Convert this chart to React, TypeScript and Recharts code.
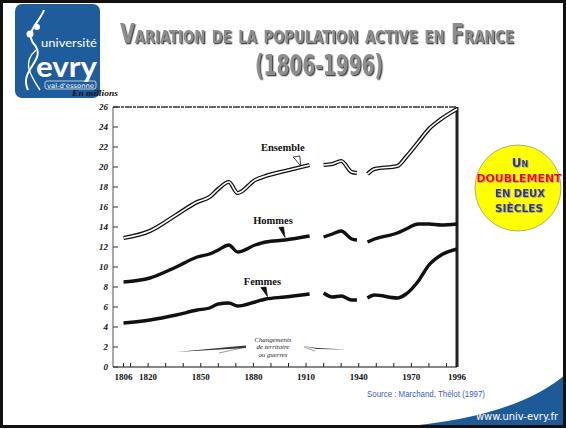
import React from 'react';
import { LineChart, Line, XAxis, YAxis, ReferenceLine, ReferenceDot } from 'recharts';

// valeurs (en millions d'actifs)
const annees = [1806, 1821, 1836, 1848, 1855, 1860, 1866, 1871, 1881, 1887, 1898, 1912, 1916, 1920, 1925, 1930, 1936, 1939, 1942, 1945, 1949, 1962, 1967, 1974, 1980, 1987, 1996];
const ensemble = [12.9, 13.6, 15.2, 16.5, 17.0, 17.8, 18.5, 17.4, 18.7, 19.1, 19.6, 20.2, null, 20.2, 20.3, 20.6, 19.5, 19.4, null, 19.3, 19.8, 20.1, 21.0, 22.5, 23.8, 24.8, 25.8];
const hommes = [8.5, 8.9, 10.0, 11.0, 11.3, 11.7, 12.2, 11.5, 12.2, 12.5, 12.7, 13.1, null, 13.0, 13.3, 13.6, 12.8, 12.7, null, 12.5, 12.8, 13.4, 13.8, 14.3, 14.3, 14.2, 14.3];
const femmes = [4.4, 4.7, 5.2, 5.7, 5.9, 6.3, 6.4, 6.1, 6.5, 6.8, 7.0, 7.3, null, 7.4, 7.0, 7.1, 6.7, 6.7, null, 6.9, 7.2, 6.9, 7.3, 8.6, 10.2, 11.2, 11.8];

const ticksX = [1806, 1810, 1820, 1830, 1840, 1850, 1860, 1870, 1880, 1890, 1900, 1910, 1920, 1930, 1940, 1950, 1960, 1970, 1980, 1990, 1996];
const etiquettesX = [1806, 1820, 1850, 1880, 1910, 1940, 1970, 1996];
const ticksY = [0, 2, 4, 6, 8, 10, 12, 14, 16, 18, 20, 22, 24, 26];

const donnees = annees.map((annee, i) => ({
  annee,
  ensemble: ensemble[i],
  ensembleCoeur: ensemble[i],
  hommes: hommes[i],
  femmes: femmes[i],
}));

const serif = '"Liberation Serif", "DejaVu Serif", serif';
const sans = '"DejaVu Sans", sans-serif';

const TickX = ({ x, y, payload }: any) => (
  <g>
    <line x1={x} y1={y} x2={x} y2={y - 4} stroke="#222" strokeWidth={1} />
    {etiquettesX.includes(payload.value) && (
      <text x={x} y={y + 13} textAnchor="middle" fontSize={9} fontWeight="bold" fontFamily={serif} fill="#111">
        {payload.value}
      </text>
    )}
  </g>
);

const TickY = ({ x, y, payload }: any) => (
  <g>
    <line x1={x} y1={y} x2={x + 5} y2={y} stroke="#333" strokeWidth={1} />
    <text x={x - 5} y={y + 3} textAnchor="end" fontSize={9} fontStyle="italic" fontWeight="bold" fontFamily={serif} fill="#111">
      {payload.value}
    </text>
  </g>
);

// étiquette avec flèche, dessinée depuis la pointe (cx, cy)
const etiquette = (texte: string, dx: number, dy: number, fleche: number[][], creuse: boolean) => (p: any) => {
  const { cx, cy } = p;
  const pts = [[0, 0], ...fleche].map(([a, b]) => `${cx + a},${cy + b}`).join(' ');
  return (
    <g>
      <polygon points={pts} fill={creuse ? '#fff' : '#111'} stroke="#111" strokeWidth={0.8} />
      <text x={cx + dx} y={cy + dy} textAnchor="middle" fontSize={10.5} fontWeight="bold" fontFamily={serif} fill="#111">
        {texte}
      </text>
    </g>
  );
};

const Changements = (p: any) => {
  const { cx, cy } = p;
  return (
    <g fontFamily={serif} fontStyle="italic" fontSize={6.8} fill="#222" textAnchor="middle">
      <text x={cx + 2} y={cy - 5.5}>Changements</text>
      <text x={cx + 2} y={cy + 2.1}>de territoire</text>
      <text x={cx + 2} y={cy + 9.7}>ou guerres</text>
      <polygon points={`${cx - 95},${cy + 5} ${cx - 25},${cy - 1.5} ${cx - 25},${cy + 1}`} fill="#333" />
      <line x1={cx - 25} y1={cy} x2={cx - 52} y2={cy + 6} stroke="#555" strokeWidth={0.6} />
      <polygon points={`${cx + 32},${cy - 1} ${cx + 46},${cy + 1} ${cx + 76},${cy + 2.5} ${cx + 46},${cy + 2}`} fill="#333" />
      <line x1={cx + 33} y1={cy} x2={cx + 44} y2={cy + 4} stroke="#555" strokeWidth={0.6} />
    </g>
  );
};

const Decor = () => (
  <svg width={566} height={429} style={{ position: 'absolute', left: 0, top: 0 }}>
    <defs>
      <filter id="ombreTitre" x="-5%" y="-20%" width="110%" height="150%">
        <feDropShadow dx={1.3} dy={1.3} stdDeviation={0.3} floodColor="#4a4a4a" />
      </filter>
      <filter id="ombrePastille" x="-5%" y="-20%" width="110%" height="150%">
        <feDropShadow dx={0.8} dy={0.8} stdDeviation={0.2} floodColor="#999" />
      </filter>
    </defs>
    <rect x={0} y={0} width={566} height={429} fill="#fff" />
    {/* bandeau bas */}
    <path d="M 398 427 Q 515 418 566 374 L 566 427 Z" fill="#1f5a98" />
    <text x={476} y={420} fontSize={11} fontFamily={sans} fill="#fff" textLength={82} lengthAdjust="spacingAndGlyphs">
      www.univ-evry.fr
    </text>
    <rect x={1.5} y={1.5} width={563} height={425} fill="none" stroke="#111" strokeWidth={3} />

    {/* logo */}
    <rect x={15} y={4} width={85} height={94} rx={7} fill="#1f5c9c" />
    <path d="M 28 90 C 18 70, 48 60, 34 44 C 24 32, 40 22, 44 10" fill="none" stroke="#fff" strokeWidth={2} />
    <path d="M 40 90 C 30 75, 22 62, 36 50" fill="none" stroke="#fff" strokeWidth={1.4} />
    <circle cx={30} cy={34} r={3.5} fill="#fff" />
    <circle cx={37} cy={27} r={3} fill="#fff" />
    <text x={41} y={47} fontSize={11} fontFamily="Lato, sans-serif" fill="#fff" textLength={56} lengthAdjust="spacingAndGlyphs">
      université
    </text>
    <text x={36} y={77} fontSize={28} fontWeight="bold" fontFamily="Lato, sans-serif" fill="#fff" textLength={61} lengthAdjust="spacingAndGlyphs">
      evry
    </text>
    <rect x={45} y={81} width={51} height={8} rx={2} fill="none" stroke="#fff" strokeWidth={0.7} />
    <text x={47} y={87.5} fontSize={6.5} fontFamily={sans} fill="#fff" textLength={47} lengthAdjust="spacingAndGlyphs">
      val-d'essonne
    </text>
    <text x={72} y={96} fontSize={9} fontStyle="italic" fontWeight="bold" fontFamily={serif} fill="#111" textLength={46} lengthAdjust="spacingAndGlyphs">
      En millions
    </text>

    {/* titre */}
    <g fill="#8e8e8e" fontFamily={sans} fontWeight="bold" filter="url(#ombreTitre)">
      <g transform="translate(120,43) scale(1,1.3)">
        <text x={0} y={0} fontSize={20} style={{ fontVariant: 'small-caps' }} textLength={394} lengthAdjust="spacingAndGlyphs">
          Variation de la population active en France
        </text>
      </g>
      <text x={255} y={75} fontSize={28} textLength={128} lengthAdjust="spacingAndGlyphs">
        (1806-1996)
      </text>
    </g>

    {/* pastille */}
    <circle cx={518} cy={188} r={43} fill="#ffff00" stroke="#9a9a6a" strokeWidth={0.8} />
    <g fontFamily={sans} fontWeight="bold" textAnchor="middle" filter="url(#ombrePastille)">
      <text x={520} y={167} fontSize={12} fill="#2e3192" style={{ fontVariant: 'small-caps' }}>
        Un
      </text>
      <text x={519} y={181.5} fontSize={11} fill="#ff0000" textLength={85} lengthAdjust="spacingAndGlyphs">
        DOUBLEMENT
      </text>
      <text x={520} y={197} fontSize={10} fill="#2e3192" textLength={50} lengthAdjust="spacingAndGlyphs">
        EN DEUX
      </text>
      <text x={519} y={212} fontSize={10} fill="#2e3192" textLength={48} lengthAdjust="spacingAndGlyphs">
        SIÈCLES
      </text>
    </g>

    <text x={367} y={397} fontSize={8.5} fontFamily='"Liberation Sans", sans-serif' fill="#3b5bd9" textLength={118} lengthAdjust="spacingAndGlyphs">
      Source :  Marchand, Thélot (1997)
    </text>
  </svg>
);

export default function App() {
  return (
    <div style={{ position: 'absolute', left: 0, top: 0, width: 566, height: 429, overflow: 'hidden', background: '#fff' }}>
      <Decor />
      <div style={{ position: 'absolute', left: 0, top: 0 }}>
        <LineChart width={566} height={429} data={donnees} margin={{ top: 107, right: 109, bottom: 32, left: 83 }}>
          <XAxis
            dataKey="annee"
            type="number"
            domain={[1800, 1996]}
            ticks={ticksX}
            interval={0}
            height={30}
            tickSize={0}
            tickMargin={0}
            tickLine={false}
            axisLine={{ stroke: '#111', strokeWidth: 1.2 }}
            tick={<TickX />}
          />
          <YAxis
            type="number"
            domain={[0, 26]}
            ticks={ticksY}
            interval={0}
            width={30}
            tickSize={0}
            tickMargin={0}
            tickLine={false}
            axisLine={{ stroke: '#555', strokeWidth: 1 }}
            tick={<TickY />}
          />
          <ReferenceLine y={26} stroke="#333" strokeWidth={1.6} strokeDasharray="7 1 3 1" />
          <ReferenceLine x={1996} stroke="#222" strokeWidth={3} />
          <Line type="monotone" dataKey="ensemble" stroke="#111" strokeWidth={4.2} dot={false} isAnimationActive={false} />
          <Line type="monotone" dataKey="ensembleCoeur" stroke="#fff" strokeWidth={1.6} dot={false} isAnimationActive={false} />
          <Line type="monotone" dataKey="hommes" stroke="#111" strokeWidth={3.4} dot={false} isAnimationActive={false} />
          <Line type="monotone" dataKey="femmes" stroke="#111" strokeWidth={3.4} dot={false} isAnimationActive={false} />
          <ReferenceDot x={1907} y={20.1} r={0} shape={etiquette('Ensemble', -18, -15, [[-7.5, -9], [-1, -10]], true)} />
          <ReferenceDot x={1898} y={12.95} r={0} shape={etiquette('Hommes', -12, -14, [[-6, -10], [-1.5, -10.5]], false)} />
          <ReferenceDot x={1888} y={7.05} r={0} shape={etiquette('Femmes', -5, -12, [[-6.5, -9], [-1.5, -9.5]], false)} />
          <ReferenceDot x={1890} y={2} r={0} shape={Changements} />
        </LineChart>
      </div>
    </div>
  );
}
